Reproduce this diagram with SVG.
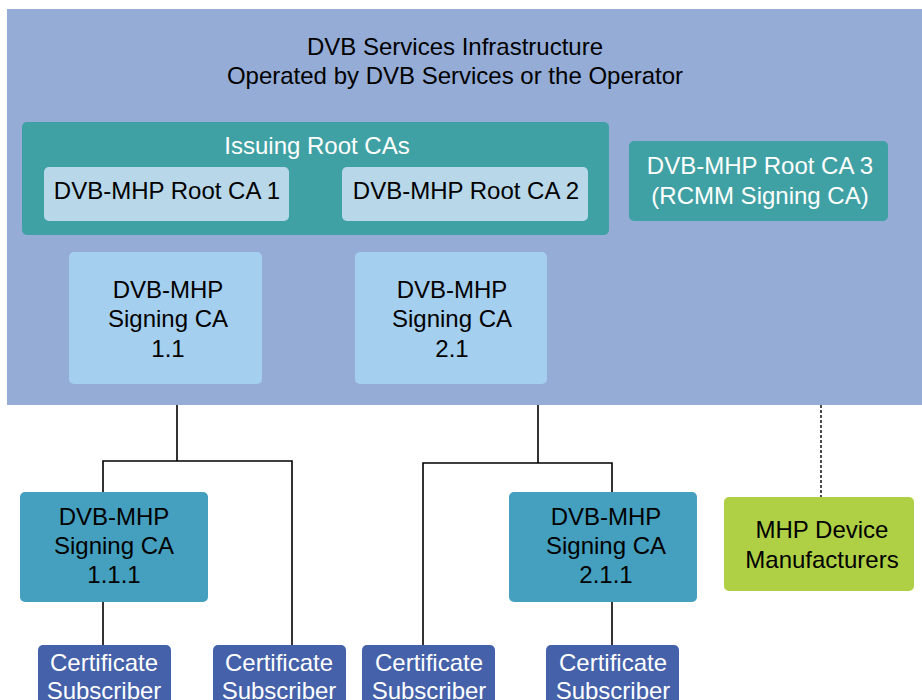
<svg xmlns="http://www.w3.org/2000/svg" width="922" height="700" viewBox="0 0 922 700">
<style>
text{font-family:"Liberation Sans",Arial,Helvetica,sans-serif;font-size:24px;text-anchor:middle;fill:#000}
.w{fill:#fff}
.ln{fill:none;stroke:#000;stroke-width:1.6}
.dot{fill:none;stroke:#000;stroke-width:1.4;stroke-dasharray:3 2}
</style>
<rect width="922" height="700" fill="#fff"/>
<g id="infra">
<rect x="7" y="9" width="915" height="396" fill="#95ADD6"/>
<text x="455" y="55">DVB Services Infrastructure</text>
<text x="455" y="84">Operated by DVB Services or the Operator</text>
</g>
<g id="issuing">
<rect x="22" y="122" width="587" height="113" rx="5" fill="#3FA1A4"/>
<text class="w" x="317" y="154">Issuing Root CAs</text>
</g>
<g id="root1">
<rect x="44" y="167" width="245" height="54" rx="5" fill="#B8D8EA"/>
<text x="167" y="199">DVB-MHP Root CA 1</text>
</g>
<g id="root2">
<rect x="342" y="167" width="246" height="54" rx="5" fill="#B8D8EA"/>
<text x="466" y="199">DVB-MHP Root CA 2</text>
</g>
<g id="root3">
<rect x="629" y="141" width="259" height="80" rx="5" fill="#3FA1A4"/>
<text class="w" x="760" y="174">DVB-MHP Root CA 3</text>
<text class="w" x="760" y="204">(RCMM Signing CA)</text>
</g>
<g id="sign11">
<rect x="69" y="252" width="193" height="132" rx="5" fill="#A5CFEE"/>
<text x="168" y="298">DVB-MHP</text>
<text x="168" y="327">Signing CA</text>
<text x="168" y="357">1.1</text>
</g>
<g id="sign21">
<rect x="355" y="252" width="192" height="132" rx="5" fill="#A5CFEE"/>
<text x="452" y="298">DVB-MHP</text>
<text x="452" y="327">Signing CA</text>
<text x="452" y="357">2.1</text>
</g>
<g id="connectors">
<path class="ln" d="M177 405V461M103 492V461H292V645M103 602V645"/>
<path class="ln" d="M538 405V463M423 645V463H612V492M612 602V645"/>
<path class="dot" d="M821 405V497"/>
</g>
<g id="sign111">
<rect x="20" y="492" width="188" height="110" rx="5" fill="#45A0BF"/>
<text x="114" y="525">DVB-MHP</text>
<text x="114" y="554">Signing CA</text>
<text x="114" y="583">1.1.1</text>
</g>
<g id="sign211">
<rect x="509" y="492" width="188" height="110" rx="5" fill="#45A0BF"/>
<text x="606" y="525">DVB-MHP</text>
<text x="606" y="554">Signing CA</text>
<text x="606" y="583">2.1.1</text>
</g>
<g id="mhp">
<rect x="724" y="497" width="190" height="94" rx="5" fill="#AFD045"/>
<text x="822" y="538">MHP Device</text>
<text x="822" y="568">Manufacturers</text>
</g>
<g id="sub1">
<rect x="38" y="645" width="133" height="70" rx="5" fill="#4461A9"/>
<text class="w" x="104" y="671">Certificate</text>
<text class="w" x="104" y="699">Subscriber</text>
</g>
<g id="sub2">
<rect x="213" y="645" width="133" height="70" rx="5" fill="#4461A9"/>
<text class="w" x="279" y="671">Certificate</text>
<text class="w" x="279" y="699">Subscriber</text>
</g>
<g id="sub3">
<rect x="362" y="645" width="133" height="70" rx="5" fill="#4461A9"/>
<text class="w" x="429" y="671">Certificate</text>
<text class="w" x="429" y="699">Subscriber</text>
</g>
<g id="sub4">
<rect x="546" y="645" width="133" height="70" rx="5" fill="#4461A9"/>
<text class="w" x="613" y="671">Certificate</text>
<text class="w" x="613" y="699">Subscriber</text>
</g>
</svg>
